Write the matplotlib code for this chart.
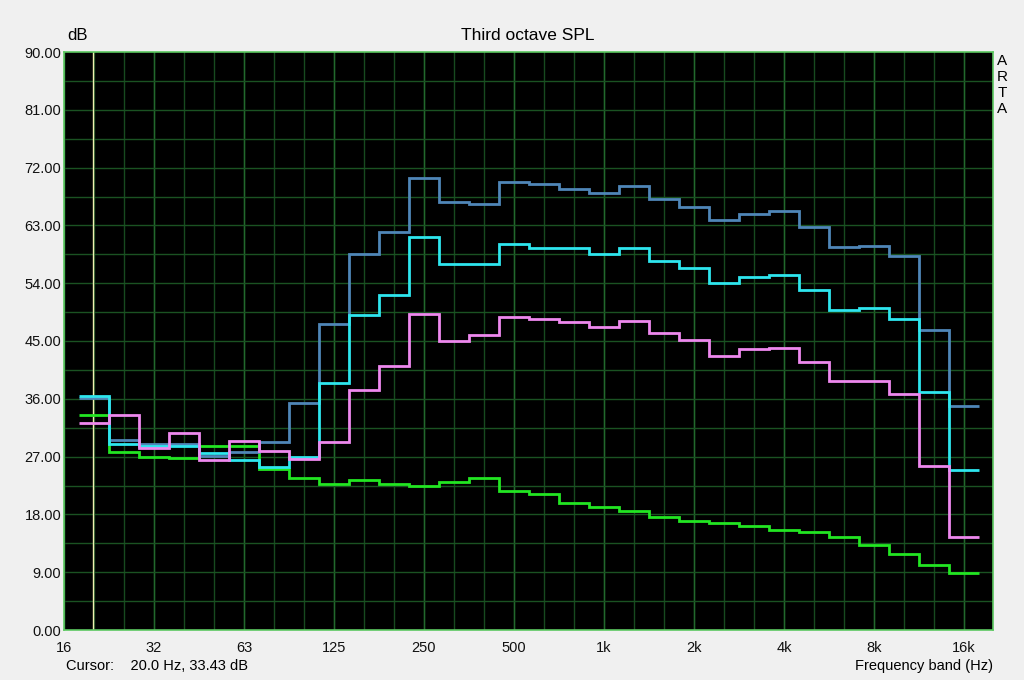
import numpy as np
import matplotlib
matplotlib.use("Agg")
import matplotlib.pyplot as plt
from matplotlib.ticker import FixedLocator, NullFormatter

plt.rcParams['font.family'] = ['Liberation Sans', 'DejaVu Sans']

# third octave bands, 20 Hz .. 16 kHz
bands = ['20', '25', '31.5', '40', '50', '63', '80', '100', '125', '160', '200', '250',
         '315', '400', '500', '630', '800', '1k', '1.25k', '1.6k', '2k', '2.5k', '3.15k',
         '4k', '5k', '6.3k', '8k', '10k', '12.5k', '16k']

spl_blue = [36.1, 29.6, 29.0, 28.9, 27.1, 27.7, 29.3, 35.4, 47.7, 58.6, 61.9, 70.4,
            66.6, 66.4, 69.8, 69.5, 68.7, 68.1, 69.1, 67.1, 65.9, 63.8, 64.8, 65.2,
            62.8, 59.6, 59.8, 58.3, 46.7, 34.9]
spl_cyan = [36.5, 28.9, 28.6, 28.6, 27.5, 26.5, 25.4, 26.9, 38.5, 49.0, 52.2, 61.2,
            57.0, 57.0, 60.1, 59.5, 59.5, 58.5, 59.5, 57.5, 56.4, 54.1, 55.0, 55.2,
            52.9, 49.9, 50.1, 48.5, 37.0, 24.9]
spl_pink = [32.2, 33.4, 28.4, 30.7, 26.4, 29.4, 27.8, 26.7, 29.2, 37.3, 41.1, 49.2,
            45.0, 46.0, 48.8, 48.5, 47.9, 47.2, 48.1, 46.3, 45.1, 42.7, 43.7, 43.9,
            41.8, 38.8, 38.7, 36.8, 25.6, 14.5]
spl_green = [33.43, 27.7, 27.0, 26.8, 28.6, 28.6, 25.0, 23.6, 22.8, 23.4, 22.7, 22.5,
             23.1, 23.7, 21.7, 21.1, 19.8, 19.2, 18.6, 17.6, 16.9, 16.6, 16.2, 15.6,
             15.3, 14.5, 13.2, 11.9, 10.1, 8.8]

xtick_labels = ['16', '32', '63', '125', '250', '500', '1k', '2k', '4k', '8k', '16k']
ytick_labels = ['0.00', '9.00', '18.00', '27.00', '36.00', '45.00', '54.00', '63.00',
                '72.00', '81.00', '90.00']

# exact third octave centres and edges (16 Hz * 2^(n/3))
edges = 16 * 2 ** ((np.arange(len(bands) + 1) + 0.5) / 3)
grid_f = 16 * 2 ** (np.arange(0, 31) / 3)
octave_f = 16 * 2 ** np.arange(0, 11)

fig = plt.figure(figsize=(10.24, 6.8), dpi=100, facecolor='#f0f0f0')
ax = fig.add_axes([64 / 1024, 1 - 630 / 680, (993 - 64) / 1024, (630 - 52) / 680])
ax.set_facecolor('black')
ax.set_xscale('log', base=2)
ax.set_xlim(16, 16 * 2 ** (929 / 90))
ax.set_ylim(0, 90)

# grid
for f in grid_f:
    ax.axvline(f, color='#174a1f', lw=1, zorder=1)
for f in octave_f:
    ax.axvline(f, color='#22682c', lw=1, zorder=1)
for y in np.arange(4.5, 90, 4.5):
    ax.axhline(y, color='#1a5222', lw=1, zorder=1)

# cursor
ax.axvline(20, color='#f0f0b0', lw=1, zorder=2)

ax.stairs(spl_green, edges, baseline=None, color='#22e622', lw=2, zorder=3)
ax.stairs(spl_blue, edges, baseline=None, color='#4f86b8', lw=2, zorder=4)
ax.stairs(spl_cyan, edges, baseline=None, color='#2ee6ee', lw=2, zorder=5)
ax.stairs(spl_pink, edges, baseline=None, color='#ee88ee', lw=2, zorder=6)

ax.xaxis.set_major_locator(FixedLocator(octave_f))
ax.xaxis.set_minor_locator(FixedLocator([]))
ax.set_xticklabels(xtick_labels)
ax.xaxis.set_minor_formatter(NullFormatter())
ax.set_yticks(np.arange(0, 91, 9))
ax.set_yticklabels(ytick_labels)
ax.tick_params(axis='both', length=0, labelsize=10.5, colors='#111111')
ax.tick_params(axis='x', pad=8)
ax.tick_params(axis='y', pad=2)

for s in ax.spines.values():
    s.set_color('#5cc860')
    s.set_linewidth(1.2)

fig.text(67 / 1024, 1 - 36 / 680, 'dB', fontsize=12, va='center', ha='left')
fig.text(528 / 1024, 1 - 36 / 680, 'Third octave SPL', fontsize=12.5, va='center', ha='center')
fig.text(66 / 1024, 1 - 666 / 680, 'Cursor:    20.0 Hz, 33.43 dB', fontsize=10.5, va='center', ha='left')
fig.text(993 / 1024, 1 - 666 / 680, 'Frequency band (Hz)', fontsize=10.5, va='center', ha='right')
for i, ch in enumerate('ARTA'):
    fig.text(1002 / 1024, 1 - (61 + 16 * i) / 680, ch, fontsize=11, va='center', ha='center')

fig.savefig('out.png', dpi=100, facecolor=fig.get_facecolor())
